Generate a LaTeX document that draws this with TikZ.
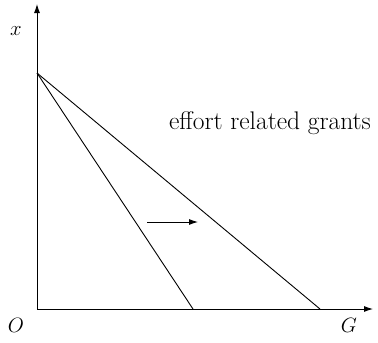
\documentclass[tikz,border=0pt]{standalone}
\usetikzlibrary{arrows.meta}
\begin{document}
\begin{tikzpicture}[x=1pt,y=-1pt,
  ln/.style={line width=0.9pt},
  ax/.style={line width=0.9pt,-{Latex[length=9pt,width=6pt]}},
  lbl/.style={font=\fontsize{22}{24}\selectfont, inner sep=0pt},
  txt/.style={font=\fontsize{25.5}{28}\selectfont, inner sep=0pt}]
\useasboundingbox (0,0) rectangle (378,343);
\coordinate (O) at (37,309);
\coordinate (ytop) at (37,4);
\coordinate (xend) at (373,309);
\coordinate (P) at (37,73);
\coordinate (A) at (193,309);
\coordinate (B) at (320,309);
\coordinate (s) at (147,222);
\coordinate (t) at (198,222);
\draw[ax] (O) -- (ytop);
\draw[ax] (O) -- (xend);
\draw[ln] (P) -- (A);
\draw[ln] (P) -- (B);
\draw[ax] (s) -- (t);
\node[lbl] (xl) at (16,31) {$x$};
\node[lbl] (ol) at (16,325) {$O$};
\node[lbl] (gl) at (349,325) {$G$};
\node[txt] (eff) at (270,123) {effort related grants};
\end{tikzpicture}
\end{document}
